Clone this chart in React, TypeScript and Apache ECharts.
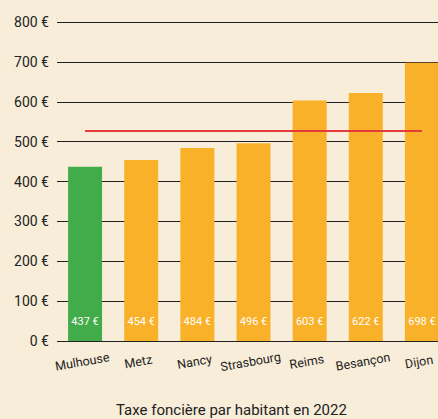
import React, { useEffect, useRef } from "react";
import * as echarts from "echarts";

const cities = ["Mulhouse", "Metz", "Nancy", "Strasbourg", "Reims", "Besançon", "Dijon"];
const values = [437, 454, 484, 496, 603, 622, 698];
const highlight = ["Mulhouse"];
const averageValue = 527;
const yTicks = { min: 0, max: 800, interval: 100 };
const titleText = "Taxe foncière par habitant en 2022";

export default function App() {
  const ref = useRef<HTMLDivElement>(null);
  useEffect(() => {
    document.body.style.margin = "0";
    const chart = echarts.init(ref.current!, null, { renderer: "svg" });
    chart.setOption({
      animation: false,
      backgroundColor: "#F8EDD9",
      textStyle: { fontFamily: "Roboto" },
      title: {
        text: titleText,
        left: 116,
        top: 402,
        padding: 0,
        textStyle: { fontSize: 15, fontWeight: "normal", color: "#222", fontFamily: "Roboto", lineHeight: 16 },
      },
      grid: { left: 57, right: 0, top: 22, bottom: 78, containLabel: false },
      xAxis: {
        type: "category",
        data: cities,
        axisLine: { show: false },
        axisTick: { show: false },
        axisLabel: {
          rotate: 10,
          align: "center",
          verticalAlign: "middle",
          margin: 20,
          padding: [0, 6, 0, 0],
          fontSize: 12.5,
          color: "#222",
          fontFamily: "Roboto",
          interval: 0,
        },
      },
      yAxis: {
        type: "value",
        min: yTicks.min,
        max: yTicks.max,
        interval: yTicks.interval,
        axisLine: { show: false },
        axisTick: { show: false },
        axisLabel: { formatter: "{value} €", fontSize: 14, color: "#222", margin: 8, fontFamily: "Roboto" },
        splitLine: { lineStyle: { color: "#222", width: 1 } },
      },
      series: [
        {
          type: "bar",
          barWidth: 34,
          data: cities.map((c, i) => ({
            value: values[i],
            itemStyle: { color: highlight.includes(c) ? "#43AC4A" : "#FAB12A" },
          })),
          label: {
            show: true,
            position: "insideBottom",
            distance: 14,
            formatter: "{c} €",
            color: "#fff",
            fontSize: 11,
            fontFamily: "Roboto",
          },
          markLine: {
            silent: true,
            symbol: "none",
            label: { show: false },
            lineStyle: { color: "#E53A3A", width: 2, type: "solid" },
            data: [[{ coord: [cities[0], averageValue] }, { coord: [cities[cities.length - 1], averageValue] }]],
          },
        },
      ],
    });
    return () => chart.dispose();
  }, []);
  return (
    <div style={{ width: 438, height: 419, overflow: "hidden", background: "#F8EDD9" }}>
      <div ref={ref} style={{ width: 450, height: 419 }} />
    </div>
  );
}
